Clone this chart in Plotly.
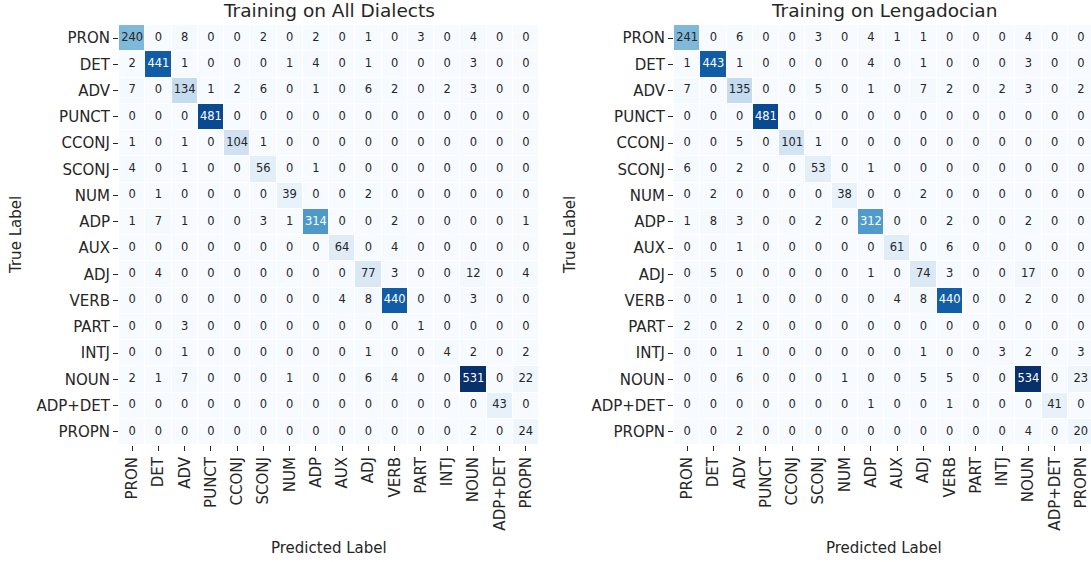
import numpy as np
import plotly.graph_objects as go

labels = ["PRON", "DET", "ADV", "PUNCT", "CCONJ", "SCONJ", "NUM", "ADP", "AUX",
          "ADJ", "VERB", "PART", "INTJ", "NOUN", "ADP+DET", "PROPN"]

all_dialects = [
    [240, 0, 8, 0, 0, 2, 0, 2, 0, 1, 0, 3, 0, 4, 0, 0],
    [2, 441, 1, 0, 0, 0, 1, 4, 0, 1, 0, 0, 0, 3, 0, 0],
    [7, 0, 134, 1, 2, 6, 0, 1, 0, 6, 2, 0, 2, 3, 0, 0],
    [0, 0, 0, 481, 0, 0, 0, 0, 0, 0, 0, 0, 0, 0, 0, 0],
    [1, 0, 1, 0, 104, 1, 0, 0, 0, 0, 0, 0, 0, 0, 0, 0],
    [4, 0, 1, 0, 0, 56, 0, 1, 0, 0, 0, 0, 0, 0, 0, 0],
    [0, 1, 0, 0, 0, 0, 39, 0, 0, 2, 0, 0, 0, 0, 0, 0],
    [1, 7, 1, 0, 0, 3, 1, 314, 0, 0, 2, 0, 0, 0, 0, 1],
    [0, 0, 0, 0, 0, 0, 0, 0, 64, 0, 4, 0, 0, 0, 0, 0],
    [0, 4, 0, 0, 0, 0, 0, 0, 0, 77, 3, 0, 0, 12, 0, 4],
    [0, 0, 0, 0, 0, 0, 0, 0, 4, 8, 440, 0, 0, 3, 0, 0],
    [0, 0, 3, 0, 0, 0, 0, 0, 0, 0, 0, 1, 0, 0, 0, 0],
    [0, 0, 1, 0, 0, 0, 0, 0, 0, 1, 0, 0, 4, 2, 0, 2],
    [2, 1, 7, 0, 0, 0, 1, 0, 0, 6, 4, 0, 0, 531, 0, 22],
    [0, 0, 0, 0, 0, 0, 0, 0, 0, 0, 0, 0, 0, 0, 43, 0],
    [0, 0, 0, 0, 0, 0, 0, 0, 0, 0, 0, 0, 0, 2, 0, 24],
]

lengadocian = [
    [241, 0, 6, 0, 0, 3, 0, 4, 1, 1, 0, 0, 0, 4, 0, 0],
    [1, 443, 1, 0, 0, 0, 0, 4, 0, 1, 0, 0, 0, 3, 0, 0],
    [7, 0, 135, 0, 0, 5, 0, 1, 0, 7, 2, 0, 2, 3, 0, 2],
    [0, 0, 0, 481, 0, 0, 0, 0, 0, 0, 0, 0, 0, 0, 0, 0],
    [0, 0, 5, 0, 101, 1, 0, 0, 0, 0, 0, 0, 0, 0, 0, 0],
    [6, 0, 2, 0, 0, 53, 0, 1, 0, 0, 0, 0, 0, 0, 0, 0],
    [0, 2, 0, 0, 0, 0, 38, 0, 0, 2, 0, 0, 0, 0, 0, 0],
    [1, 8, 3, 0, 0, 2, 0, 312, 0, 0, 2, 0, 0, 2, 0, 0],
    [0, 0, 1, 0, 0, 0, 0, 0, 61, 0, 6, 0, 0, 0, 0, 0],
    [0, 5, 0, 0, 0, 0, 0, 1, 0, 74, 3, 0, 0, 17, 0, 0],
    [0, 0, 1, 0, 0, 0, 0, 0, 4, 8, 440, 0, 0, 2, 0, 0],
    [2, 0, 2, 0, 0, 0, 0, 0, 0, 0, 0, 0, 0, 0, 0, 0],
    [0, 0, 1, 0, 0, 0, 0, 0, 0, 1, 0, 0, 3, 2, 0, 3],
    [0, 0, 6, 0, 0, 0, 1, 0, 0, 5, 5, 0, 0, 534, 0, 23],
    [0, 0, 0, 0, 0, 0, 0, 1, 0, 0, 1, 0, 0, 0, 41, 0],
    [0, 0, 2, 0, 0, 0, 0, 0, 0, 0, 0, 0, 0, 4, 0, 20],
]

titles = ["Training on All Dialects", "Training on Lengadocian"]

# ---- styling ----
W, H = 1091, 562
FONT = "DejaVu Sans"
DARK = "#262626"
blues_hex = ["#f7fbff", "#deebf7", "#c6dbef", "#9ecae1", "#6baed6",
             "#4292c6", "#2171b5", "#08519c", "#08306b"]
blues_rgb = np.array([[int(h[i:i + 2], 16) for i in (1, 3, 5)] for h in blues_hex], float)
stops = np.linspace(0, 1, len(blues_hex))
colorscale = [[float(s), h] for s, h in zip(stops, blues_hex)]


def xp(px):
    return px / W


def yp(py):
    return 1 - py / H


def text_colors(z):
    z = np.asarray(z, float)
    t = (z - z.min()) / (z.max() - z.min())
    rgb = np.stack([np.interp(t, stops, blues_rgb[:, k]) for k in range(3)], -1) / 255.0
    lin = np.where(rgb <= 0.03928, rgb / 12.92, ((rgb + 0.055) / 1.055) ** 2.4)
    lum = lin @ np.array([0.2126, 0.7152, 0.0722])
    return np.where(lum > 0.408, DARK, "white")


cell = 26.25
top_px, bot_px = 25.0, 25.0 + 16 * cell
panel_x0 = [119.0, 674.0]
ytitle_x = [16, 570]

fig = go.Figure()
for i, mat in enumerate([all_dialects, lengadocian]):
    x0 = panel_x0[i]
    x1 = min(x0 + 16 * cell, W)
    xa = "x" if i == 0 else "x2"
    ya = "y" if i == 0 else "y2"
    z = np.array(mat)
    fig.add_trace(go.Heatmap(
        z=z, x=labels, y=labels, colorscale=colorscale,
        zmin=z.min(), zmax=z.max(), showscale=False, xgap=1, ygap=1,
        xaxis=xa, yaxis=ya, hoverinfo="skip"))
    xs = [labels[c] for r in range(16) for c in range(16)]
    ys = [labels[r] for r in range(16) for c in range(16)]
    fig.add_trace(go.Scatter(
        x=xs, y=ys, mode="text", text=[str(v) for v in z.flatten()],
        textfont=dict(family=FONT, size=11.5, color=list(text_colors(z).flatten())),
        textposition="middle center", xaxis=xa, yaxis=ya, hoverinfo="skip",
        showlegend=False))
    ncells = (x1 - x0) / cell
    axis_common = dict(showgrid=False, zeroline=False, showline=False, ticks="outside",
                       ticklen=5, tickwidth=1, tickcolor=DARK,
                       tickfont=dict(family=FONT, size=15, color=DARK))
    xdom = [xp(x0), min(xp(x1), 1.0)]
    ydom = [yp(bot_px), yp(top_px)]
    fig.update_layout(**{
        ("xaxis" if i == 0 else "xaxis2"): dict(
            domain=xdom, range=[-0.5, -0.5 + ncells], anchor=ya, tickangle=-90,
            type="category", **axis_common),
        ("yaxis" if i == 0 else "yaxis2"): dict(
            domain=ydom, range=[15.5, -0.5], anchor=xa, type="category", **axis_common),
    })
    cx = xp(x0 + 8 * cell)
    fig.add_annotation(text=titles[i], xref="paper", yref="paper", x=cx, y=yp(11),
                       xanchor="center", yanchor="middle", showarrow=False,
                       font=dict(family=FONT, size=18.5, color=DARK))
    fig.add_annotation(text="Predicted Label", xref="paper", yref="paper", x=cx,
                       y=yp(548), xanchor="center", yanchor="middle", showarrow=False,
                       font=dict(family=FONT, size=15, color=DARK))
    fig.add_annotation(text="True Label", xref="paper", yref="paper", x=xp(ytitle_x[i]),
                       y=yp((top_px + bot_px) / 2), xanchor="center", yanchor="middle",
                       textangle=-90, showarrow=False,
                       font=dict(family=FONT, size=15, color=DARK))

fig.update_layout(width=W, height=H, margin=dict(l=0, r=0, t=0, b=0),
                  paper_bgcolor="white", plot_bgcolor="white", showlegend=False)
# remove the page's default body margin so the figure sits at the window origin
fig.write_html("out.html", config={"displayModeBar": False},
               post_script="document.body.style.margin='0px';")
